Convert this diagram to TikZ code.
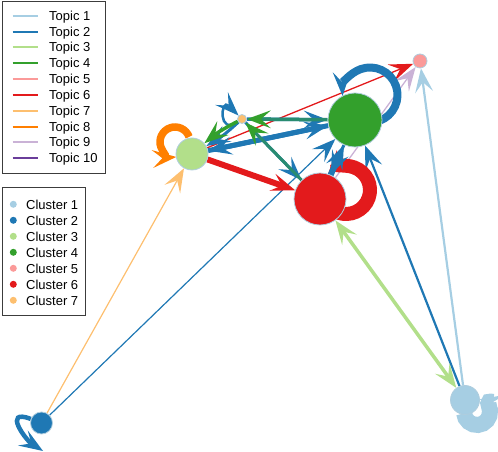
\documentclass[tikz,border=0pt]{standalone}
\usepackage{fontspec}
\setmainfont{Liberation Sans}
\usetikzlibrary{arrows.meta,calc}
\definecolor{tA}{HTML}{A6CEE3}
\definecolor{tB}{HTML}{1F78B4}
\definecolor{tC}{HTML}{B2DF8A}
\definecolor{tD}{HTML}{33A02C}
\definecolor{tE}{HTML}{FB9A99}
\definecolor{tF}{HTML}{E31A1C}
\definecolor{tG}{HTML}{FDBF6F}
\definecolor{tH}{HTML}{FF7F00}
\definecolor{tI}{HTML}{CAB2D6}
\definecolor{tJ}{HTML}{6A3D9A}
\colorlet{teal}{tB!50!tD}
\definecolor{vborder}{RGB}{175,205,222}
\definecolor{legframe}{RGB}{60,60,60}
\pgfdeclarelayer{edges}
\pgfsetlayers{edges,main}
\begin{document}
\begin{tikzpicture}[x=1pt,y=1pt,
  >={Stealth[length=24pt,width=18pt,inset=10pt,line width=0pt]},
  vtx/.style={circle,inner sep=0pt,draw=vborder,line width=0.8pt},
  conn/.style={->},
  greenhead/.style={-{Stealth[length=24pt,width=18pt,inset=10pt,line width=0pt,color=tD]}},
  legbox/.style={draw=legframe,line width=0.8pt},
  legtext/.style={anchor=base west,inner sep=0pt,font=\fontsize{13}{15}\selectfont}
]
\useasboundingbox (0,0) rectangle (498,452);

% vertices
\node[vtx,fill=tA,minimum size=29pt] (c1) at (465,52) {};
\node[vtx,fill=tB,minimum size=22pt] (c2) at (41.5,29) {};
\node[vtx,fill=tC,minimum size=32pt] (c3) at (192,298) {};
\node[vtx,fill=tD,minimum size=54pt] (c4) at (355,332) {};
\node[vtx,fill=tE,minimum size=14pt] (c5) at (420,391) {};
\node[vtx,fill=tF,minimum size=52pt] (c6) at (320,253) {};
\node[vtx,fill=tG,minimum size=9pt] (c7) at (242,333) {};
% loop centres
\coordinate (l1) at (477,40);
\coordinate (l3) at (175,310);
\coordinate (l4) at (370,357);
\coordinate (l6) at (346,262);
\coordinate (c2tip) at (43,1);

\begin{pgfonlayer}{edges}
% thin edges
\draw[conn,tG,line width=1.2pt] (c2) -- (c3);
\draw[conn,tB,line width=1.2pt] (c2) -- (c4);
\draw[conn,tB,line width=2.2pt] (c1) -- (c4);
\draw[conn,tA,line width=2.2pt] (c1) -- (c5);
\draw[conn,tF,line width=1.3pt] (c3) -- (c5);
\draw[conn,tI,line width=1.3pt] (c6) -- (c5);
\draw[<->,tC,line width=3.5pt] (c6) -- (c1);
% loops
\draw[conn,tB,line width=8pt] ($(l4)+(-70:27.5)$) arc[start angle=-70,end angle=182,radius=27.5];
\draw[conn,tF,line width=14pt] ($(l6)+(-110:24)$) arc[start angle=-110,end angle=139,radius=24];
\draw[conn,tH,line width=7.5pt] ($(l3)+(20:15)$) arc[start angle=20,end angle=275,radius=15];
\draw[conn,tA,line width=16pt] ($(l1)+(185:13)$) arc[start angle=185,end angle=439,radius=13];
\draw[conn,tB,line width=4.5pt] (c2) .. controls (2,44) and (26,12) .. (c2tip);
\draw[conn,tB,line width=2.5pt] (c7) .. controls ($(c7)+(215:30)$) and ($(c7)+(135:30)$) .. (c7);
% thick edges
\draw[conn,tF,line width=6pt] (c3) -- (c6);
\draw[conn,tB,line width=5pt] (c3) -- (c4);
\draw[conn,tB,line width=5pt] (c4) -- (c3);
\draw[conn,tB,line width=3.5pt] (c7) -- (c4);
\draw[greenhead,teal,line width=3.5pt] (c4) -- (c7);
\draw[conn,tB,line width=3pt] (c7) -- (c6);
\draw[greenhead,teal,line width=3pt] (c6) -- (c7);
\draw[conn,tB,line width=3pt] (c7) to[bend left=6] (c3);
\draw[conn,tD,line width=3.5pt] (c7) to[bend right=6] (c3);
\draw[conn,tB,line width=6pt] (c6) -- (c4);
\draw[conn,tB,line width=3pt] (c4) -- (c6);
\end{pgfonlayer}

% legend: topics
\node[legbox,minimum width=103pt,minimum height=172pt,anchor=north west,inner sep=0pt] (leg1) at (2,451) {};
\foreach \i/\c in {1/tA,2/tB,3/tC,4/tD,5/tE,6/tF,7/tG,8/tH,9/tI,10/tJ}{
  \pgfmathsetmacro\yy{436.3-15.84*(\i-1)}
  \coordinate (ls\i) at (12.7,\yy);
  \coordinate (le\i) at (37.7,\yy);
  \draw[\c,line width=2pt] (ls\i) -- (le\i);
  \node[legtext] (lt\i) at (49,\yy-4.5) {Topic \i};
}
% legend: clusters
\node[legbox,minimum width=83pt,minimum height=128pt,anchor=north west,inner sep=0pt] (leg2) at (2,265) {};
\foreach \i/\c in {1/tA,2/tB,3/tC,4/tD,5/tE,6/tF,7/tG}{
  \pgfmathsetmacro\yy{247.7-16*(\i-1)}
  \node[circle,fill=\c,inner sep=0pt,minimum size=7pt] (ld\i) at (13.3,\yy) {};
  \node[legtext] (lc\i) at (26,\yy-4.8) {Cluster \i};
}
\end{tikzpicture}
\end{document}
